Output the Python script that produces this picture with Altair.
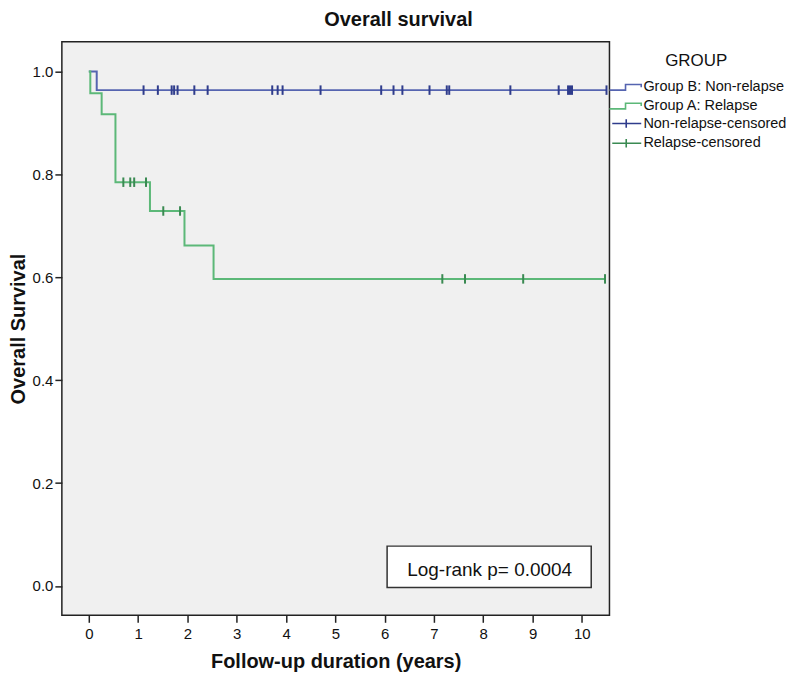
import altair as alt
import pandas as pd

FONT = "Liberation Sans"

# ---- data ----
group_names = ["Group B: Non-relapse", "Group A: Relapse"]
censor_names = ["Non-relapse-censored", "Relapse-censored"]

group_b_time = [0.0, 0.16, 10.50]
group_b_surv = [1.0, 0.964, 0.964]

group_a_time = [0.0, 0.03, 0.26, 0.54, 1.24, 1.94, 2.53, 10.47]
group_a_surv = [1.0, 0.958, 0.917, 0.785, 0.729, 0.662, 0.597, 0.597]

group_b_censor = [1.11, 1.40, 1.68, 1.73, 1.80, 2.14, 2.41, 3.72, 3.83, 3.93,
                  4.70, 5.93, 6.18, 6.36, 6.91, 7.26, 7.31, 8.55, 9.53, 9.72,
                  9.76, 9.80, 10.50]
group_a_censor = [0.70, 0.84, 0.92, 1.16, 1.51, 1.85, 7.17, 7.63, 8.81, 10.47]

x_ticks = [0, 1, 2, 3, 4, 5, 6, 7, 8, 9, 10]
y_ticks = [0.0, 0.2, 0.4, 0.6, 0.8, 1.0]

annot_text = ["Log-rank p= 0.0004"]
annot_x = [8.13]
annot_y = [0.032]
box_x = [6.05]
box_x2 = [10.19]
box_y = [-0.003]
box_y2 = [0.0775]

line_colors = ["#5564b0", "#5cb878"]
censor_colors = ["#2f3c8c", "#3a8a52"]


def step_value(times, survs, t):
    v = survs[0]
    for tt, s in zip(times, survs):
        if tt <= t:
            v = s
    return v


lines_df = pd.DataFrame(
    {"time": group_b_time + group_a_time,
     "surv": group_b_surv + group_a_surv,
     "series": [group_names[0]] * len(group_b_time) + [group_names[1]] * len(group_a_time)}
)
censor_df = pd.DataFrame(
    {"time": group_b_censor + group_a_censor,
     "surv": [step_value(group_b_time, group_b_surv, t) for t in group_b_censor]
     + [step_value(group_a_time, group_a_surv, t) for t in group_a_censor],
     "cseries": [censor_names[0]] * len(group_b_censor) + [censor_names[1]] * len(group_a_censor)}
)
annot_df = pd.DataFrame({"label": annot_text, "x": annot_x, "y": annot_y})
box_df = pd.DataFrame({"x": box_x, "x2": box_x2, "y": box_y, "y2": box_y2})

x_scale = alt.Scale(domain=[-0.547, 10.56], nice=False, zero=False)
y_scale = alt.Scale(domain=[-0.057, 1.058], nice=False, zero=False)

x_axis = alt.Axis(values=x_ticks, title="Follow-up duration (years)", grid=False,
                  domain=False, tickSize=7, tickWidth=1.5, tickColor="#222",
                  labelFontSize=15, labelFont=FONT, labelColor="#111", labelPadding=4,
                  titleFontSize=20, titleFont=FONT, titleFontWeight="bold",
                  titleColor="#111", titlePadding=10)
y_axis = alt.Axis(values=y_ticks, format=".1f", title="Overall Survival", grid=False,
                  domain=False, tickSize=7, tickWidth=1.5, tickColor="#222",
                  labelFontSize=15, labelFont=FONT, labelColor="#111", labelPadding=2,
                  titleFontSize=20, titleFont=FONT, titleFontWeight="bold",
                  titleColor="#111", titlePadding=4)

STEP_PATH = "M-1,0.4H1.3V-0.4H3.55V0"
CROSS_PATH = "M-0.6,0H3.55M1.4,-0.6V0.6"

leg_common = dict(orient="none", labelFontSize=14.5, labelFont=FONT, labelColor="#111",
                  labelOffset=19, symbolSize=196, symbolStrokeWidth=1.6,
                  symbolFillColor="transparent", rowPadding=3.8, labelLimit=300,
                  legendX=548)

lines = alt.Chart(lines_df).mark_line(interpolate="step-after", strokeWidth=2).encode(
    x=alt.X("time:Q", scale=x_scale, axis=x_axis),
    y=alt.Y("surv:Q", scale=y_scale, axis=y_axis),
    color=alt.Color("series:N",
                    scale=alt.Scale(domain=group_names, range=line_colors),
                    legend=alt.Legend(title="GROUP", titleFontSize=17, titleFont=FONT,
                                      titleFontWeight="normal", titleColor="#111",
                                      titleAnchor="middle", titlePadding=9,
                                      symbolType=STEP_PATH, legendY=11.7, **leg_common)),
)

censors = alt.Chart(censor_df).mark_point(shape="M0,-1V1", filled=False, size=90,
                                          strokeWidth=2, opacity=1).encode(
    x=alt.X("time:Q", scale=x_scale),
    y=alt.Y("surv:Q", scale=y_scale),
    color=alt.Color("cseries:N",
                    scale=alt.Scale(domain=censor_names, range=censor_colors),
                    legend=alt.Legend(title=None, symbolType=CROSS_PATH, legendY=74,
                                      **leg_common)),
)

box = alt.Chart(box_df).mark_rect(fill="white", stroke="#333", strokeWidth=1.5).encode(
    x=alt.X("x:Q", scale=x_scale), x2="x2:Q",
    y=alt.Y("y:Q", scale=y_scale), y2="y2:Q",
)

text = alt.Chart(annot_df).mark_text(fontSize=19, font=FONT, color="#111",
                                     align="center", baseline="middle").encode(
    x=alt.X("x:Q", scale=x_scale),
    y=alt.Y("y:Q", scale=y_scale),
    text="label:N",
)

chart = alt.layer(lines, censors, box, text).resolve_scale(color="independent").properties(
    width=549,
    height=575,
    autosize=alt.AutoSizeParams(type="none"),
    padding={"left": 54, "top": 33, "right": 183, "bottom": 65},
    title=alt.TitleParams("Overall survival", fontSize=20, fontWeight="bold", font=FONT,
                          color="#111", anchor="middle", frame="group", dx=63,
                          offset=12),
).configure_view(
    fill="#f0f0f0", stroke="#222", strokeWidth=1.5
)

chart.save("out.html", embed_options={"renderer": "svg", "actions": False})
